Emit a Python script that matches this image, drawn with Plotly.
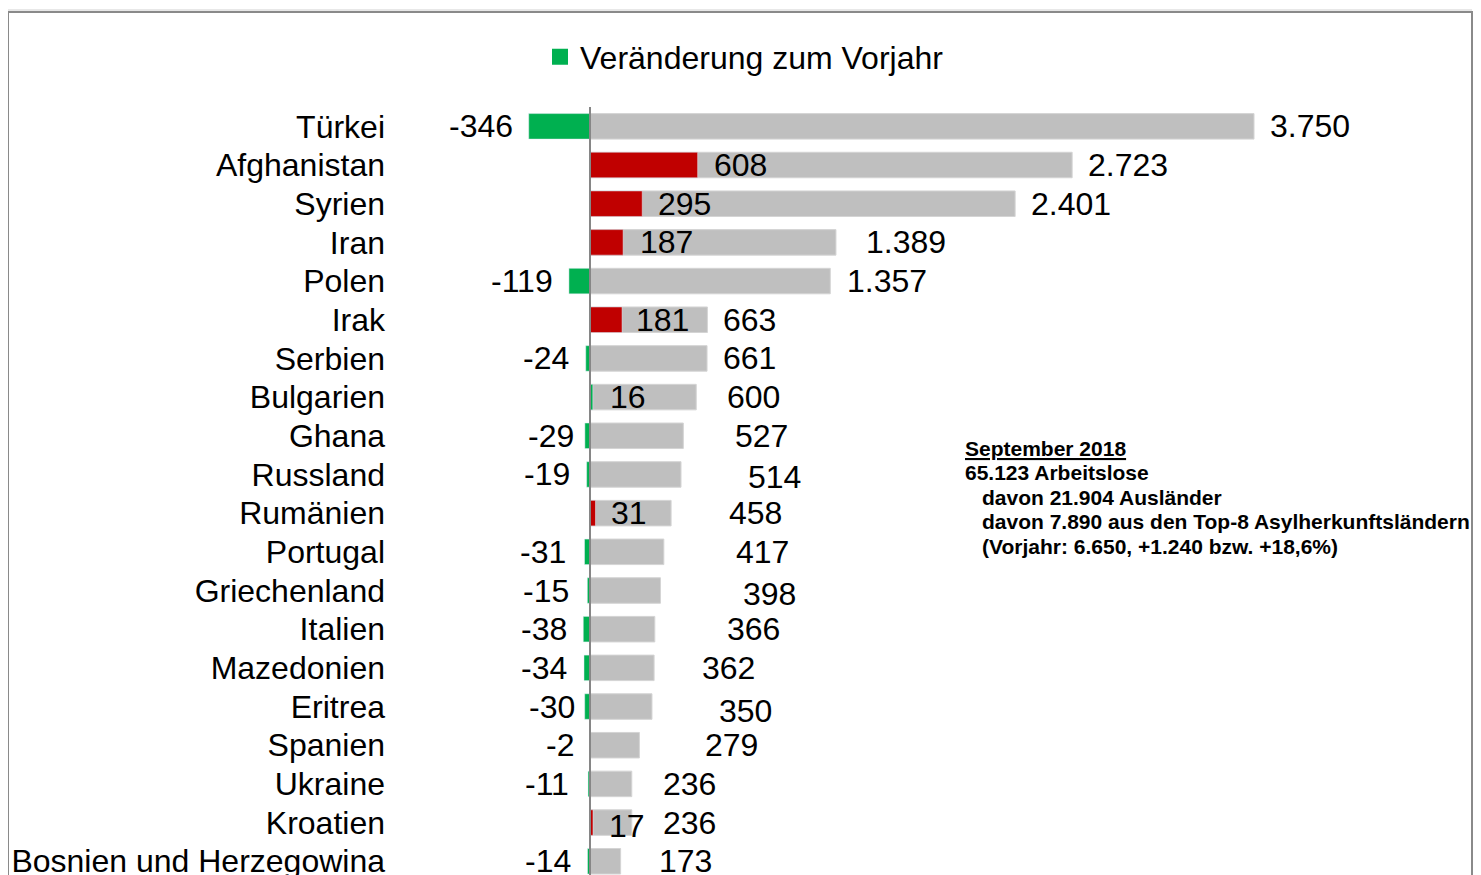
import plotly.graph_objects as go

# ---------------- data ----------------
countries = ["Türkei", "Afghanistan", "Syrien", "Iran", "Polen", "Irak", "Serbien",
             "Bulgarien", "Ghana", "Russland", "Rumänien", "Portugal", "Griechenland",
             "Italien", "Mazedonien", "Eritrea", "Spanien", "Ukraine", "Kroatien",
             "Bosnien und Herzegowina"]
totals = [3750, 2723, 2401, 1389, 1357, 663, 661, 600, 527, 514, 458, 417, 398,
          366, 362, 350, 279, 236, 236, 173]
changes = [-346, 608, 295, 187, -119, 181, -24, 16, -29, -19, 31, -31, -15,
           -38, -34, -30, -2, -11, 17, -14]
legend_name = "Veränderung zum Vorjahr"
note_lines = ["September 2018", "65.123 Arbeitslose", "davon 21.904 Ausländer",
              "davon 7.890 aus den Top-8 Asylherkunftsländern",
              "(Vorjahr: 6.650, +1.240 bzw. +18,6%)"]

# ---------------- style ----------------
GRAY = "#BFBFBF"
RED = "#C00000"
GREEN = "#00B050"
change_colors = [GREEN, RED, RED, RED, GREEN, RED, GREEN, GREEN, GREEN, GREEN, RED,
                 GREEN, GREEN, GREEN, GREEN, GREEN, GREEN, GREEN, RED, GREEN]
# label offsets (pixels) mimicking the reference's manual label placement
total_xshift = [14, 14, 14, 28, 15, 14, 14, 29, 50, 65, 56, 70, 81, 70, 46, 65, 64, 29, 29, 36]
total_yshift = [0, 0, 0, 0, 0, 0, 0, 0, 0, -3, 0, 0, -3, 0, 0, -4, 0, 0, 0, 0]
change_xshift = [14, 14, 14, 15, 14, 12, 15, 15, 9, 15, 14, 17, 16, 14, 15, 8, 14, 17, 14, 15]
change_yshift = [0, 0, 0, 0, 0, 0, 0, 0, 0, 0, 0, 0, 0, 0, 0, 0, 0, 0, -3, 0]

FONT = "Liberation Sans, Arial, sans-serif"
FS = 32
OFF = 8                      # page body margin
W, H = 1481 - OFF, 875 - OFF
# plot area in page pixels: left 395, right 1475, top 107, bottom 875
ML, MR, MT, MB = 395 - OFF, 6, 107 - OFF, 0
PW, PH = W - ML - MR, H - MT - MB
SCALE = (1254 - 590) / 3750.0   # px per unit
ZERO_PX = 590
x_range = [(395 - ZERO_PX) / SCALE, (1475 - ZERO_PX) / SCALE]
ROW = 38.68
y_bottom = -0.5 + PH / ROW


def px_x(px):
    return (px - OFF - ML) / PW


def px_y(py):
    return (H - MB - (py - OFF)) / PH


fig = go.Figure()
fig.add_trace(go.Bar(y=countries, x=totals, orientation="h", marker_color=GRAY,
                     marker_line=dict(color="#D4D4D4", width=1),
                     width=0.66, showlegend=False, hoverinfo="x+y"))
fig.add_trace(go.Bar(y=countries, x=changes, orientation="h", marker_color=change_colors,
                     width=0.66, showlegend=False, hoverinfo="x+y"))
fig.add_trace(go.Scatter(x=[None], y=[None], mode="markers", name=legend_name,
                         marker=dict(symbol="square", size=16, color=GREEN)))

annotations = []
for i, c in enumerate(countries):
    tot = totals[i]
    annotations.append(dict(x=tot, y=c, xref="x", yref="y", text=f"{tot:,}".replace(",", "."),
                            showarrow=False, xanchor="left", xshift=total_xshift[i],
                            yshift=total_yshift[i], font=dict(size=FS, color="black", family=FONT)))
    ch = changes[i]
    if ch < 0:
        annotations.append(dict(x=ch, y=c, xref="x", yref="y", text=str(ch), showarrow=False,
                                xanchor="right", xshift=-change_xshift[i], yshift=change_yshift[i],
                                font=dict(size=FS, color="black", family=FONT)))
    else:
        annotations.append(dict(x=ch, y=c, xref="x", yref="y", text=str(ch), showarrow=False,
                                xanchor="left", xshift=change_xshift[i], yshift=change_yshift[i],
                                font=dict(size=FS, color="black", family=FONT)))

note_x = [963, 963, 980, 980, 980]
note_y = [448, 472, 497, 521, 546]
for i, line in enumerate(note_lines):
    txt = f'<span style="text-decoration:underline">{line}</span>' if i == 0 else line
    annotations.append(dict(x=px_x(note_x[i]), y=px_y(note_y[i]), xref="paper", yref="paper",
                            text=f"<b>{txt}</b>", showarrow=False, xanchor="left", yanchor="middle",
                            font=dict(size=21, color="black", family=FONT)))

shapes = [
    dict(type="line", xref="x", yref="paper", x0=0, x1=0, y0=0, y1=1,
         line=dict(color="#868686", width=2), layer="above"),
    dict(type="line", xref="paper", yref="paper", x0=px_x(8), x1=px_x(1472),
         y0=px_y(10), y1=px_y(10), line=dict(color="#d0d0d0", width=1), layer="below"),
    dict(type="rect", xref="paper", yref="paper", x0=px_x(8), x1=px_x(1472),
         y0=px_y(900), y1=px_y(12), line=dict(color="#8a8a8a", width=2),
         fillcolor="rgba(0,0,0,0)", layer="below"),
]

fig.update_layout(
    width=W, height=H,
    margin=dict(l=ML, r=MR, t=MT, b=MB, pad=0, autoexpand=False),
    paper_bgcolor="white", plot_bgcolor="white",
    barmode="overlay",
    font=dict(family=FONT, size=FS, color="black"),
    xaxis=dict(range=x_range, showgrid=False, zeroline=False, showticklabels=False,
               ticks="", showline=False, fixedrange=True, automargin=False),
    yaxis=dict(range=[y_bottom, -0.5], showgrid=False, zeroline=False, ticks="",
               showline=False, tickfont=dict(size=FS, family=FONT, color="black"),
               ticklabelstandoff=9, fixedrange=True, automargin=False),
    legend=dict(orientation="h", xref="container", yref="container",
                x=(540 - OFF) / W, y=1 - (57 - OFF) / H, xanchor="left", yanchor="middle",
                font=dict(size=FS, family=FONT, color="black"), bgcolor="rgba(0,0,0,0)",
                itemsizing="trace"),
    annotations=annotations,
    shapes=shapes,
)

fig.write_html("out.html")
